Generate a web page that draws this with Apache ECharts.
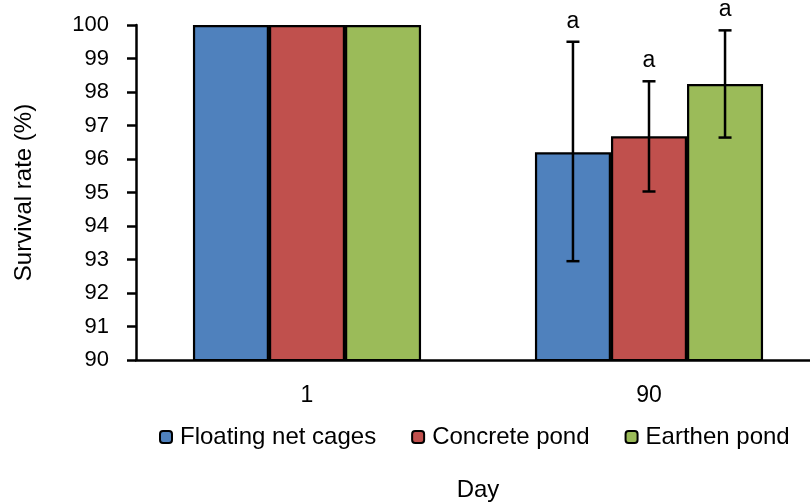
<!DOCTYPE html>
<html>
<head>
<meta charset="utf-8">
<script src="https://cdn.jsdelivr.net/npm/echarts@6/dist/echarts.min.js"></script>
<style>
  html, body { margin: 0; padding: 0; background: #fff; }
  #main { width: 810px; height: 504px; }
</style>
</head>
<body>
<div id="main"></div>
<script>
// data
var days = ['1', '90'];
var seriesNames = ['Floating net cages', 'Concrete pond', 'Earthen pond'];
var colors = ['#4f81bd', '#c0504d', '#9bbb59'];
var floating = [100, 96.2];
var concrete = [100, 96.68];
var earthen = [100, 98.24];
// error bar ends (only day 90 has them)
var errLow = [[null, 92.95], [null, 95.03], [null, 96.64]];
var errHigh = [[null, 99.5], [null, 98.32], [null, 99.84]];
var letters = [[null, 'a'], [null, 'a'], [null, 'a']];

var font = "'Liberation Sans', Arial, sans-serif";
var values = [floating, concrete, earthen];

var myChart = echarts.init(document.getElementById('main'));

var barCatGap = 0.333;
var errData = [];
for (var s = 0; s < 3; s++) {
    for (var d = 0; d < days.length; d++) {
        if (errLow[s][d] != null) {
            errData.push([d, s, errLow[s][d], errHigh[s][d], letters[s][d]]);
        }
    }
}

var series = [];
for (var i = 0; i < 3; i++) {
    series.push({
        name: seriesNames[i],
        type: 'bar',
        data: values[i],
        barGap: '0%',
        barCategoryGap: '33.3%',
        itemStyle: { color: colors[i], borderColor: '#000', borderWidth: 2.2 }
    });
}
series.push({
    type: 'custom',
    name: 'err',
    data: errData,
    z: 10,
    renderItem: function (params, api) {
        var d = api.value(0), s = api.value(1);
        var catW = api.size([1, 0])[0];
        var barW = catW * (1 - barCatGap) / 3;
        var center = api.coord([d, 0])[0];
        var x = center + (s - 1) * barW;
        var lo = api.coord([d, api.value(2)])[1];
        var hi = api.coord([d, api.value(3)])[1];
        var cap = 6.5;
        var st = { stroke: '#000', lineWidth: 2.5 };
        return {
            type: 'group',
            children: [
                { type: 'line', shape: { x1: x, y1: lo, x2: x, y2: hi }, style: st },
                { type: 'line', shape: { x1: x - cap, y1: lo, x2: x + cap, y2: lo }, style: st },
                { type: 'line', shape: { x1: x - cap, y1: hi, x2: x + cap, y2: hi }, style: st },
                {
                    type: 'text',
                    style: {
                        x: x, y: hi - 9,
                        text: api.value(4),
                        fill: '#000',
                        font: '23px ' + font,
                        align: 'center',
                        verticalAlign: 'bottom'
                    }
                }
            ]
        };
    }
});

var option = {
    animation: false,
    textStyle: { fontFamily: font, color: '#000' },
    grid: { left: 136, right: -10, top: 25, bottom: 144, outerBoundsMode: 'none', containLabel: false },
    legend: {
        data: seriesNames,
        top: 420,
        left: 154,
        itemWidth: 12,
        itemHeight: 12,
        itemGap: 35,
        textStyle: { fontSize: 24, color: '#000', fontFamily: font, padding: [0, 0, 0, 3] }
    },
    xAxis: {
        type: 'category',
        data: days,
        name: 'Day',
        nameLocation: 'middle',
        nameGap: 118,
        nameTextStyle: { fontSize: 24, color: '#000', fontFamily: font },
        axisLine: { lineStyle: { color: '#000', width: 2.5 } },
        axisTick: { show: false },
        axisLabel: { fontSize: 23, color: '#000', margin: 24, fontFamily: font }
    },
    yAxis: {
        type: 'value',
        min: 90,
        max: 100,
        interval: 1,
        name: 'Survival rate (%)',
        nameLocation: 'middle',
        nameGap: 100,
        nameTextStyle: { fontSize: 24, color: '#000', fontFamily: font },
        axisLine: { show: true, lineStyle: { color: '#000', width: 2.5 } },
        axisTick: { show: true, length: 9, lineStyle: { color: '#000', width: 2.5 } },
        splitLine: { show: false },
        axisLabel: { fontSize: 22, color: '#000', margin: 27, fontFamily: font }
    },
    series: series
};

myChart.setOption(option);
</script>
</body>
</html>
